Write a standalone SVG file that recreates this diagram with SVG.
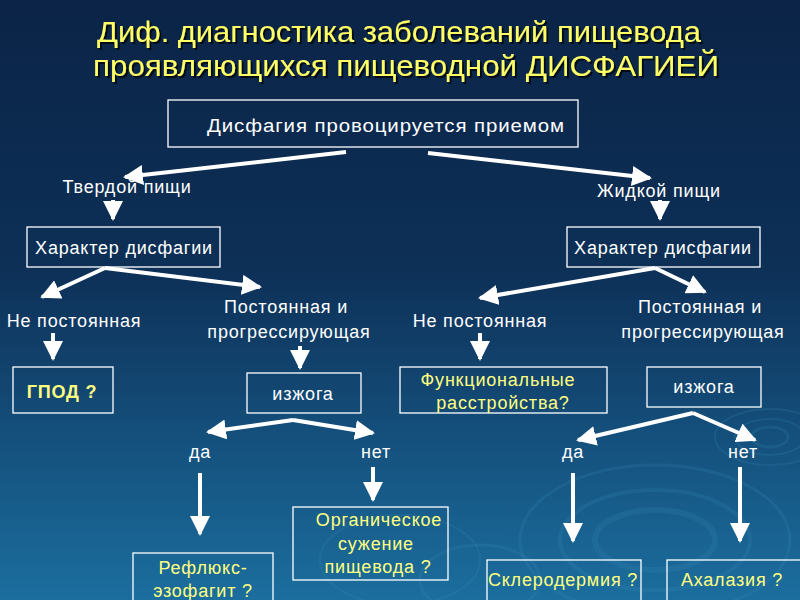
<svg xmlns="http://www.w3.org/2000/svg" width="800" height="600" viewBox="0 0 800 600">
<defs>
<linearGradient id="bg" x1="0" y1="0" x2="0" y2="1">
<stop offset="0" stop-color="#0b2447"/>
<stop offset="0.45" stop-color="#0d3057"/>
<stop offset="0.75" stop-color="#15527f"/>
<stop offset="1" stop-color="#1b6e9e"/>
</linearGradient>
<filter id="shadow" x="-5%" y="-20%" width="110%" height="150%">
<feDropShadow dx="2" dy="2" stdDeviation="0.6" flood-color="#000" flood-opacity="0.7"/>
</filter>
<marker id="ah" viewBox="0 0 10 10" refX="9" refY="5" markerWidth="5" markerHeight="5" markerUnits="strokeWidth" orient="auto">
<path d="M0,0 L10,5 L0,10 z" fill="#fff"/>
</marker>
<style>
.box{fill:none;stroke:#fff;stroke-width:1.3}
.t{font-family:"Liberation Sans",Arial,sans-serif;font-size:18px;letter-spacing:0.8px;fill:#fff;text-anchor:middle}
.y{fill:#ffff80}
.title{font-family:"Liberation Sans",Arial,sans-serif;font-size:29.5px;fill:#ffff66;text-anchor:middle;filter:url(#shadow)}
.c{fill:none;stroke:#fff;stroke-width:4;marker-end:url(#ah)}
.r{fill:none;stroke:#3f8fbf;stroke-opacity:0.18}
</style>
</defs>
<rect width="800" height="600" fill="url(#bg)"/>
<g id="ripples">
<ellipse class="r" cx="655" cy="540" rx="60" ry="30" stroke-width="6"/>
<ellipse class="r" cx="655" cy="540" rx="95" ry="50" stroke-width="4"/>
<ellipse class="r" cx="655" cy="540" rx="135" ry="75" stroke-width="3"/>
<ellipse class="r" cx="770" cy="437" rx="18" ry="10" stroke-width="3"/>
<ellipse class="r" cx="770" cy="437" rx="35" ry="18" stroke-width="2"/>
<ellipse class="r" cx="770" cy="437" rx="55" ry="28" stroke-width="2"/>
<ellipse class="r" cx="480" cy="580" rx="60" ry="35" stroke-width="3"/>
<ellipse class="r" cx="400" cy="560" rx="80" ry="45" stroke-width="2"/>
</g>
<g id="title">
<text class="title" x="399" y="42" textLength="604" lengthAdjust="spacingAndGlyphs">Диф. диагностика заболеваний пищевода</text>
<text class="title" x="406" y="76" textLength="626" lengthAdjust="spacingAndGlyphs">проявляющихся пищеводной ДИСФАГИЕЙ</text>
</g>
<g id="connectors">
<line class="c" x1="346" y1="152" x2="125" y2="177"/>
<line class="c" x1="428" y1="153" x2="650" y2="178"/>
<line class="c" x1="113" y1="200" x2="113" y2="219"/>
<line class="c" x1="660" y1="200" x2="660" y2="219"/>
<line class="c" x1="105" y1="268" x2="42" y2="297"/>
<line class="c" x1="105" y1="268" x2="260" y2="287"/>
<line class="c" x1="655" y1="268" x2="480" y2="298"/>
<line class="c" x1="655" y1="268" x2="705" y2="292"/>
<line class="c" x1="53" y1="333" x2="53" y2="359"/>
<line class="c" x1="300" y1="346" x2="300" y2="368"/>
<line class="c" x1="480" y1="333" x2="480" y2="359"/>
<polyline class="c" points="293,420 208,432"/>
<polyline class="c" points="293,420 373,433"/>
<polyline class="c" points="693,413 578,440"/>
<polyline class="c" points="693,413 755,440"/>
<line class="c" x1="200" y1="473" x2="200" y2="534"/>
<line class="c" x1="373" y1="467" x2="373" y2="500"/>
<line class="c" x1="573" y1="473" x2="573" y2="541"/>
<line class="c" x1="740" y1="467" x2="740" y2="541"/>
</g>
<g id="n-start">
<rect class="box" x="168" y="100" width="410" height="47"/>
<text class="t" x="386" y="132" textLength="358" lengthAdjust="spacingAndGlyphs">Дисфагия провоцируется приемом</text>
</g>
<g id="l-solid"><text class="t" x="127" y="193">Твердой пищи</text></g>
<g id="l-liquid"><text class="t" x="659" y="197">Жидкой пищи</text></g>
<g id="n-char-left">
<rect class="box" x="27" y="227" width="193" height="40"/>
<text class="t" x="124" y="254">Характер дисфагии</text>
</g>
<g id="n-char-right">
<rect class="box" x="567" y="227" width="193" height="40"/>
<text class="t" x="663" y="254">Характер дисфагии</text>
</g>
<g id="l-left-nonconst"><text class="t" x="74" y="327">Не постоянная</text></g>
<g id="l-left-const">
<text class="t" x="286" y="313">Постоянная  и</text>
<text class="t" x="289" y="338">прогрессирующая</text>
</g>
<g id="l-right-nonconst"><text class="t" x="480" y="327">Не постоянная</text></g>
<g id="l-right-const">
<text class="t" x="700" y="313">Постоянная  и</text>
<text class="t" x="703" y="338">прогрессирующая</text>
</g>
<g id="n-gpod">
<rect class="box" x="13" y="367" width="100" height="46"/>
<text class="t y" x="62" y="398" font-weight="bold">ГПОД ?</text>
</g>
<g id="n-heart-left">
<rect class="box" x="247" y="373" width="114" height="40"/>
<text class="t" x="303" y="400">изжога</text>
</g>
<g id="n-func">
<rect class="box" x="400" y="367" width="207" height="46"/>
<text class="t y" x="498" y="386">Функциональные</text>
<text class="t y" x="503" y="409">расстройства?</text>
</g>
<g id="n-heart-right">
<rect class="box" x="647" y="367" width="114" height="40"/>
<text class="t" x="704" y="393">изжога</text>
</g>
<g id="l-yes-left"><text class="t" x="200" y="458">да</text></g>
<g id="l-no-left"><text class="t" x="376" y="458">нет</text></g>
<g id="l-yes-right"><text class="t" x="573" y="458">да</text></g>
<g id="l-no-right"><text class="t" x="743" y="458">нет</text></g>
<g id="n-reflux">
<rect class="box" x="133" y="553" width="140" height="60"/>
<text class="t y" x="203" y="574">Рефлюкс-</text>
<text class="t y" x="203" y="597">эзофагит  ?</text>
</g>
<g id="n-organic">
<rect class="box" x="293" y="507" width="155" height="73"/>
<text class="t y" x="379" y="526">Органическое</text>
<text class="t y" x="376" y="550">сужение</text>
<text class="t y" x="378" y="573">пищевода  ?</text>
</g>
<g id="n-sclero">
<rect class="box" x="487" y="560" width="154" height="50"/>
<text class="t y" x="563" y="586">Склеродермия  ?</text>
</g>
<g id="n-achal">
<rect class="box" x="667" y="560" width="140" height="50"/>
<text class="t y" x="732" y="586">Ахалазия  ?</text>
</g>
</svg>
